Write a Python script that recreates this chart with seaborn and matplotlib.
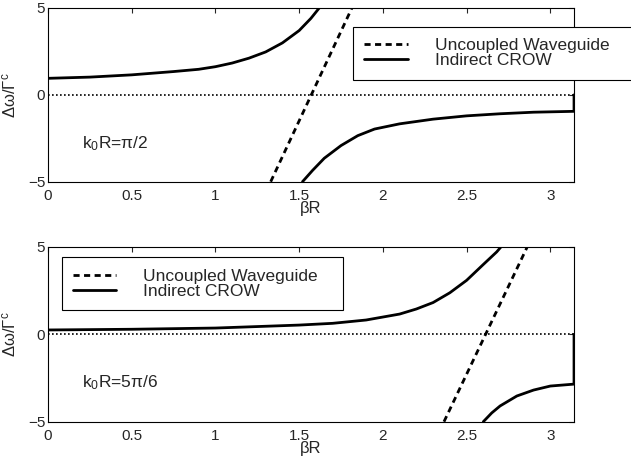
import numpy as np
import pandas as pd
import matplotlib
matplotlib.use("Agg")
import matplotlib.pyplot as plt
import seaborn as sns

# values (beta*R on x, delta omega / Gamma^c on y)
PI = np.pi

# top panel, k0R = pi/2
wg_top_x = [1.33, 1.815]
wg_top_y = [-5.0, 5.0]
crow_top_up_x = [0.0, 0.25, 0.5, 0.75, 0.9, 1.0, 1.1, 1.2, 1.3, 1.4, 1.5, 1.57, 1.62]
crow_top_up_y = [0.95, 1.02, 1.15, 1.34, 1.47, 1.62, 1.83, 2.11, 2.47, 2.99, 3.70, 4.40, 5.0]
crow_top_lo_x = [1.52, 1.58, 1.65, 1.75, 1.85, 1.95, 2.1, 2.3, 2.5, 2.7, 2.9, PI, PI]
crow_top_lo_y = [-5.0, -4.35, -3.65, -2.92, -2.35, -1.97, -1.67, -1.40, -1.21, -1.09, -1.0, -0.95, 0.0]

# bottom panel, k0R = 5pi/6
wg_bot_x = [2.365, 2.862]
wg_bot_y = [-5.0, 5.0]
crow_bot_up_x = [0.0, 0.5, 1.0, 1.5, 1.7, 1.9, 2.1, 2.2, 2.3, 2.4, 2.5, 2.6, 2.68, 2.705]
crow_bot_up_y = [0.25, 0.29, 0.36, 0.53, 0.63, 0.82, 1.16, 1.45, 1.82, 2.38, 3.09, 4.0, 4.72, 5.0]
crow_bot_lo_x = [2.6, 2.65, 2.7, 2.8, 2.9, 3.0, PI, PI]
crow_bot_lo_y = [-5.0, -4.5, -4.1, -3.53, -3.19, -2.96, -2.85, 0.0]

x_ticks = [0, 0.5, 1, 1.5, 2, 2.5, 3]
x_tick_labels = ["0", "0.5", "1", "1.5", "2", "2.5", "3"]
y_ticks = [-5, 0, 5]
panel_labels = ["k$_0$R=π/2", "k$_0$R=5π/6"]
legend_labels = ["Uncoupled Waveguide", "Indirect CROW"]

sns.set_style("white")
plt.rcParams["font.family"] = ["Liberation Sans", "DejaVu Sans"]
plt.rcParams["mathtext.fontset"] = "custom"
plt.rcParams["mathtext.rm"] = "Liberation Sans"
plt.rcParams["mathtext.it"] = "Liberation Sans"

fig = plt.figure(figsize=(6.31, 4.66), dpi=100)
ax_top = fig.add_axes([0.0761, 0.6101, 0.8336, 0.3728])
ax_bot = fig.add_axes([0.0761, 0.0951, 0.8336, 0.3749])

panels = [
    (ax_top, wg_top_x, wg_top_y, crow_top_up_x, crow_top_up_y, crow_top_lo_x, crow_top_lo_y),
    (ax_bot, wg_bot_x, wg_bot_y, crow_bot_up_x, crow_bot_up_y, crow_bot_lo_x, crow_bot_lo_y),
]
legend_boxes = [(0.5594, 0.9427 - 0.1144, 0.4463, 0.1144),
                (0.0978, 0.4479 - 0.1131, 0.4463, 0.1131)]

for i, (ax, wx, wy, ux, uy, lx, ly) in enumerate(panels):
    # zero line
    sns.lineplot(x=[0, PI], y=[0, 0], ax=ax, color="black", lw=1.2,
                 linestyle=(0, (1, 1.4)), estimator=None, sort=False)
    sns.lineplot(x=wx, y=wy, ax=ax, color="black", lw=2.0,
                 linestyle=(0, (2.2, 1.6)), estimator=None, sort=False)
    sns.lineplot(x=ux, y=uy, ax=ax, color="black", lw=2.0, estimator=None, sort=False)
    sns.lineplot(x=lx, y=ly, ax=ax, color="black", lw=2.0, estimator=None, sort=False)
    dash_line, solid_line = ax.lines[1], ax.lines[2]

    ax.set_xlim(0, PI)
    ax.set_ylim(-5, 5)
    ax.set_xticks(x_ticks)
    ax.set_xticklabels(x_tick_labels)
    ax.set_yticks(y_ticks)
    ax.tick_params(direction="in", top=True, right=True, length=3.6, width=0.8,
                   labelsize=11, pad=2)
    ax.tick_params(axis="x", pad=5)
    for s in ax.spines.values():
        s.set_linewidth(0.8)
        s.set_color("black")

    ax.set_xlabel("βR", fontsize=12)
    ax.xaxis.set_label_coords(0.5, -0.11)
    ax.set_ylabel("Δω/Γ$^\\mathrm{c}$", fontsize=12)
    ax.yaxis.set_label_coords(-0.057, 0.5)

    ax.text(0.2, -3.05, panel_labels[i], fontsize=12.5)

    leg = ax.legend([dash_line, solid_line], legend_labels,
                    loc="upper left", bbox_to_anchor=legend_boxes[i],
                    bbox_transform=fig.transFigure, mode="expand",
                    fontsize=12.5, handlelength=2.5, handletextpad=1.55,
                    borderpad=0.65, labelspacing=0.0, fancybox=False,
                    framealpha=1, edgecolor="black", borderaxespad=0)
    leg.get_frame().set_linewidth(0.8)

fig.savefig("out.png", dpi=100)
